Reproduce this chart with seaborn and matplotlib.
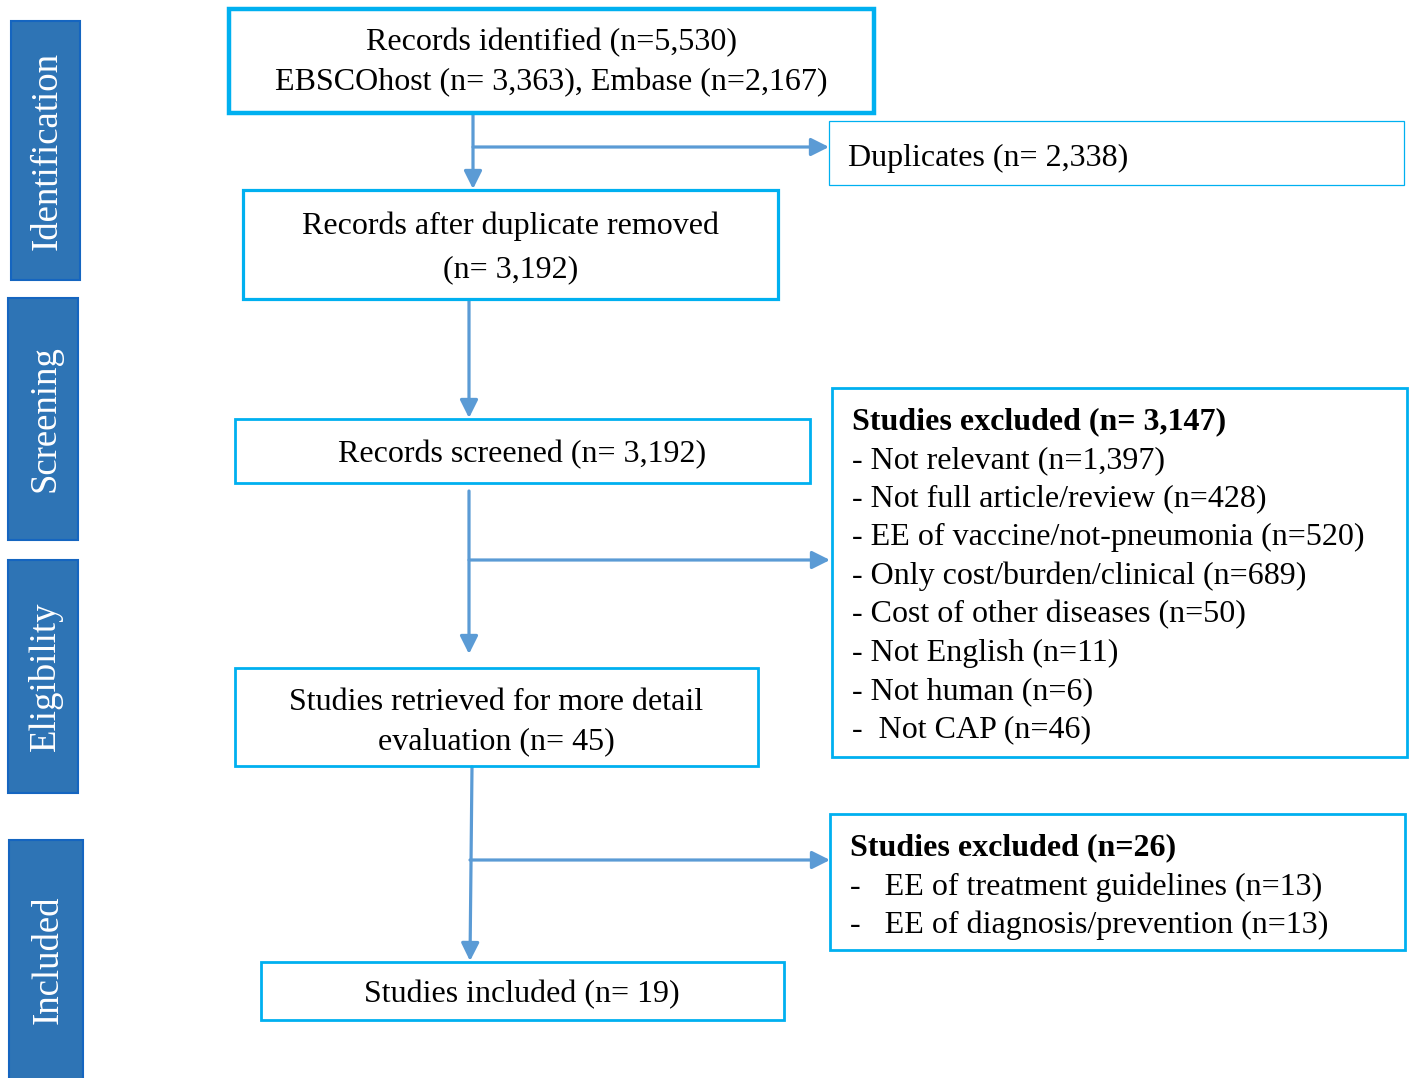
import matplotlib
matplotlib.use("Agg")
import matplotlib.pyplot as plt
import seaborn as sns
from matplotlib.patches import Rectangle

# %%
# text of the flow chart
stages = ['Identification', 'Screening', 'Eligibility', 'Included']
identified = ['Records identified (n=5,530)', 'EBSCOhost (n= 3,363), Embase (n=2,167)']
duplicates = 'Duplicates (n= 2,338)'
after_dup = ['Records after duplicate removed', '(n= 3,192)']
screened = 'Records screened (n= 3,192)'
excluded_1_title = 'Studies excluded (n= 3,147)'
excluded_1 = ['- Not relevant (n=1,397)', '- Not full article/review (n=428)',
              '- EE of vaccine/not-pneumonia (n=520)', '- Only cost/burden/clinical (n=689)',
              '- Cost of other diseases (n=50)', '- Not English (n=11)',
              '- Not human (n=6)', '-  Not CAP (n=46)']
retrieved = ['Studies retrieved for more detail', 'evaluation (n= 45)']
excluded_2_title = 'Studies excluded (n=26)'
excluded_2 = ['-   EE of treatment guidelines (n=13)', '-   EE of diagnosis/prevention (n=13)']
included = 'Studies included (n= 19)'

# %%
# layout in pixel units (x0, y0, x1, y1)
stage_boxes = [(11, 21, 80, 280), (8, 298, 78, 540), (8, 560, 78, 793), (9, 840, 83, 1082)]
box_cyan = '#00B0F0'
arrow_col = '#5B9BD5'
stage_col = '#2E74B5'

sns.set_theme(style='white')
plt.rcParams['font.family'] = ['Liberation Serif', 'DejaVu Serif']

fig = plt.figure(figsize=(14.09, 10.78), dpi=100)
ax = fig.add_axes([0, 0, 1, 1])
ax.set_xlim(0, 1409)
ax.set_ylim(1078, 0)
ax.axis('off')

fs = 23
dy = 3  # small nudge so the text sits like in the original


def box(x0, y0, x1, y1, lw):
    ax.add_patch(Rectangle((x0, y0), x1 - x0, y1 - y0, fill=False,
                           edgecolor=box_cyan, linewidth=lw, zorder=3))


def txt(x, y, s, ha='center', **kw):
    ax.text(x, y + dy, s, ha=ha, va='center', fontsize=fs, color='black', **kw)


def arrow(x0, y0, x1, y1):
    ax.annotate('', xy=(x1, y1), xytext=(x0, y0),
                arrowprops=dict(arrowstyle='-|>,head_length=0.9,head_width=0.45',
                                color=arrow_col, lw=2.3, shrinkA=0, shrinkB=0),
                zorder=2)


# stage labels on the left
for label, (x0, y0, x1, y1) in zip(stages, stage_boxes):
    ax.add_patch(Rectangle((x0, y0), x1 - x0, y1 - y0, facecolor=stage_col,
                           edgecolor='#1565C0', linewidth=1.5, zorder=3))
    ax.text((x0 + x1) / 2 + 2, (y0 + y1) / 2 if y1 < 1078 else 960, label, rotation=90,
            ha='center', va='center', color='white', fontsize=26.5, zorder=4)

# main boxes
box(229, 9, 874, 113, 3.2)
txt(551, 40, identified[0])
txt(551, 80, identified[1])

box(829, 121, 1404, 185, 0.9)
txt(848, 155, duplicates, ha='left')

box(243, 190, 778, 299, 2.3)
txt(511, 223, after_dup[0])
txt(511, 267, after_dup[1])

box(235, 419, 810, 483, 2.0)
txt(522, 452, screened)

box(832, 388, 1407, 757, 2.0)
txt(852, 419, excluded_1_title, ha='left', fontweight='bold')
for i, line in enumerate(excluded_1):
    txt(852, 457.5 + i * 38.5, line, ha='left')

box(235, 668, 758, 766, 2.0)
txt(496, 700, retrieved[0])
txt(496, 739, retrieved[1])

box(830, 814, 1405, 950, 2.0)
txt(850, 845, excluded_2_title, ha='left', fontweight='bold')
for i, line in enumerate(excluded_2):
    txt(850, 884 + i * 38.5, line, ha='left')

box(261, 962, 784, 1020, 2.0)
txt(522, 992, included)

# connectors
arrow(473, 115, 473, 189)
arrow(473, 147, 829, 147)
arrow(469, 300, 469, 418)
arrow(469, 491, 469, 654)
arrow(469, 560, 830, 560)
arrow(472, 767, 470, 961)
arrow(470, 860, 830, 860)

fig.savefig('out.png', dpi=100)
